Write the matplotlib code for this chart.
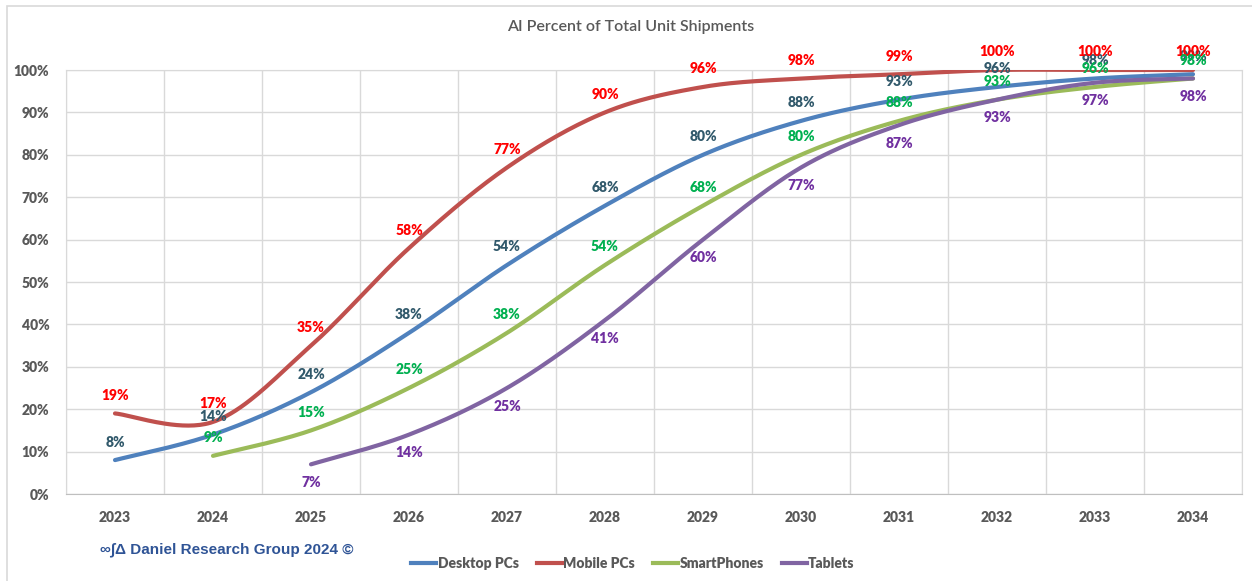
import numpy as np
import matplotlib.pyplot as plt
from matplotlib.patches import Rectangle
from matplotlib.lines import Line2D

plt.rcParams['font.family'] = ['Lato', 'DejaVu Sans']

# data (percent)
years = [2023, 2024, 2025, 2026, 2027, 2028, 2029, 2030, 2031, 2032, 2033, 2034]
desktop = [8, 14, 24, 38, 54, 68, 80, 88, 93, 96, 98, 99]
mobile = [19, 17, 35, 58, 77, 90, 96, 98, 99, 100, 100, 100]
smartphones = [None, 9, 15, 25, 38, 54, 68, 80, 88, 93, 96, 98]
tablets = [None, None, 7, 14, 25, 41, 60, 77, 87, 93, 97, 98]

series = [
    ('Desktop PCs', desktop, '#4F81BD', '#31596B', 13),
    ('Mobile PCs', mobile, '#C0504D', '#FF0000', 13),
    ('SmartPhones', smartphones, '#9BBB59', '#00B050', 13),
    ('Tablets', tablets, '#8064A2', '#7030A0', -13),
]


def smooth(x, y, n=40):
    # Excel style smoothed line (cubic bezier, Catmull-Rom control points)
    pts = np.column_stack([x, y]).astype(float)
    out = []
    t = np.linspace(0, 1, n)[:, None]
    for i in range(len(pts) - 1):
        p0, p3 = pts[i], pts[i + 1]
        prev = pts[i - 1] if i > 0 else p0
        nxt = pts[i + 2] if i + 2 < len(pts) else p3
        c1 = p0 + (p3 - prev) / 6
        c2 = p3 - (nxt - p0) / 6
        seg = (1 - t)**3 * p0 + 3 * (1 - t)**2 * t * c1 + 3 * (1 - t) * t**2 * c2 + t**3 * p3
        out.append(seg if i == 0 else seg[1:])
    out = np.vstack(out)
    return out[:, 0], out[:, 1]


fig = plt.figure(figsize=(12.52, 5.81), dpi=100)
ax = fig.add_axes([66 / 1252, 1 - 494 / 581, (1242 - 66) / 1252, (494 - 70) / 581])

# outer chart frame
fig.patches.append(Rectangle((7 / 1252, -0.05), 1.2, 1 - 6 / 581 + 0.05,
                             transform=fig.transFigure, fill=False,
                             edgecolor='#D9D9D9', lw=1.2))

for name, vals, color, lcolor, off in series:
    xs = [i for i, v in enumerate(vals) if v is not None]
    ys = [v for v in vals if v is not None]
    sx, sy = smooth(xs, ys)
    ax.plot(sx, sy, color=color, lw=3, solid_capstyle='round', label=name, zorder=3)
    for x, y in zip(xs, ys):
        ax.annotate(f"{y}%", (x, y), xytext=(0, off), textcoords='offset points',
                    ha='center', va='center', fontsize=10, fontweight='heavy',
                    color=lcolor, zorder=4)

ax.set_xlim(-0.5, len(years) - 0.5)
ax.set_ylim(0, 100)
ax.set_xticks(range(len(years)))
ax.set_xticklabels([str(y) for y in years])
ax.set_xticks(np.arange(-0.5, len(years), 1), minor=True)
ax.set_yticks(range(0, 101, 10))
ax.set_yticklabels([f"{v}%" for v in range(0, 101, 10)])
ax.tick_params(axis='both', which='both', length=0, labelsize=10, labelcolor='#595959')
ax.tick_params(axis='x', pad=12)
ax.tick_params(axis='y', pad=12)
for lab in ax.get_xticklabels() + ax.get_yticklabels():
    lab.set_fontweight('heavy')
ax.grid(axis='y', color='#D9D9D9', lw=1)
ax.grid(axis='x', which='minor', color='#D9D9D9', lw=1)
ax.set_axisbelow(True)
for sp in ax.spines.values():
    sp.set_color('#D9D9D9')
ax.spines['bottom'].set_color('#BFBFBF')

fig.text(631 / 1252, 1 - 27 / 581, 'AI Percent of Total Unit Shipments', ha='center', va='center',
         fontsize=11.5, fontweight='semibold', color='#595959')

fig.text(100 / 1252, 1 - 550 / 581, '∞∫Δ Daniel Research Group 2024 ©', ha='left', va='center',
         fontsize=11, fontweight='bold', color='#2F5496', family=['Liberation Sans', 'DejaVu Sans'])

handles = [Line2D([], [], color=c, lw=3) for _, _, c, _, _ in series]
fig.legend(handles, [s[0] for s in series], loc='center', bbox_to_anchor=(633 / 1252, 1 - 563 / 581),
           ncol=4, frameon=False, handlelength=1.8, handletextpad=0.1, columnspacing=1.3,
           prop={'size': 10, 'weight': 'heavy'}, labelcolor='#595959')

fig.savefig('out.png', dpi=100)
